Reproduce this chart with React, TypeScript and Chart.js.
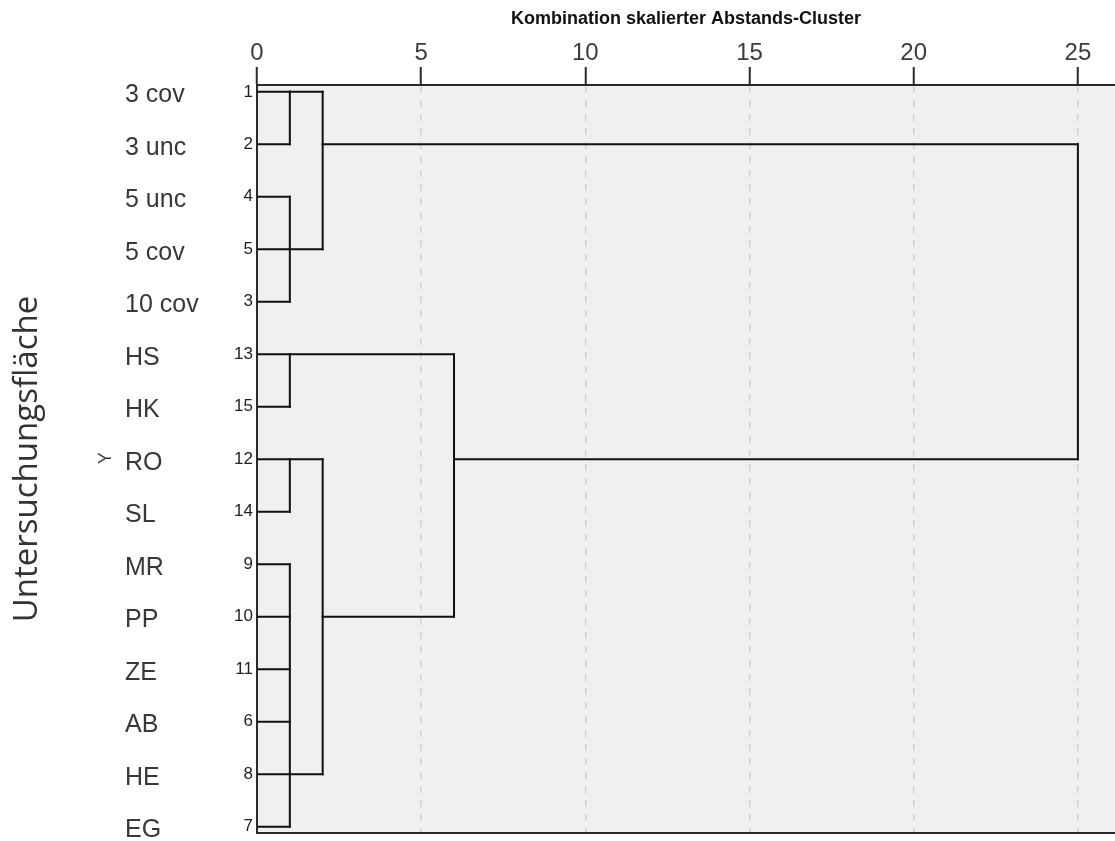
import React, { useEffect, useRef } from "react";
import { Chart, registerables } from "chart.js";

Chart.register(...registerables);

// Leaves (top to bottom)
const leafNames = ["3 cov", "3 unc", "5 unc", "5 cov", "10 cov", "HS", "HK", "RO", "SL", "MR", "PP", "ZE", "AB", "HE", "EG"];
const leafIds = ["1", "2", "4", "5", "3", "13", "15", "12", "14", "9", "10", "11", "6", "8", "7"];

// Merges: children ("L#" = leaf, "M#" = earlier merge), rescaled distance, row where the joined line leaves
const mergeChildren = [
  ["L0", "L1"],
  ["L2", "L3", "L4"],
  ["M0", "M1"],
  ["L5", "L6"],
  ["L7", "L8"],
  ["L9", "L10", "L11", "L12", "L13", "L14"],
  ["M4", "M5"],
  ["M3", "M6"],
  ["M2", "M7"],
];
const mergeHeights = [1, 1, 2, 1, 1, 1, 2, 6, 25];
const mergeRows = [0, 3, 1, 5, 7, 13, 10, 7, 4];

const xTickStep = 5;
const xMax = 26.13;
const titleX = "Kombination skalierter Abstands-Cluster";
const titleY = "Untersuchungsfläche";

function buildSegments() {
  const nodes: Record<string, { row: number; x: number }> = {};
  leafNames.forEach((_, i) => (nodes["L" + i] = { row: i, x: 0 }));
  const segs: { x: number; y: number }[][] = [];
  mergeChildren.forEach((ch, m) => {
    const h = mergeHeights[m];
    const rows = ch.map((c) => nodes[c].row);
    ch.forEach((c) => {
      segs.push([
        { x: nodes[c].x, y: nodes[c].row },
        { x: h, y: nodes[c].row },
      ]);
    });
    segs.push([
      { x: h, y: Math.min(...rows) },
      { x: h, y: Math.max(...rows) },
    ]);
    nodes["M" + m] = { row: mergeRows[m], x: h };
  });
  return segs;
}

const bgPlugin = {
  id: "dendroBg",
  beforeDraw(chart: any) {
    const { ctx, chartArea } = chart;
    ctx.save();
    ctx.fillStyle = "#f0f0f0";
    ctx.fillRect(chartArea.left, chartArea.top, chartArea.right - chartArea.left, chartArea.bottom - chartArea.top);
    ctx.restore();
  },
  afterDraw(chart: any) {
    const { ctx } = chart;
    const ys = chart.scales.y;
    ctx.save();
    ctx.fillStyle = "#383838";
    ctx.font = "25px 'Liberation Sans', Arial, sans-serif";
    ctx.textAlign = "left";
    ctx.textBaseline = "middle";
    leafNames.forEach((n, i) => {
      ctx.fillText(n, 125, ys.getPixelForValue(i) + 3.5);
    });
    ctx.restore();
    // small rotated variable marker
    ctx.save();
    const midY = ys.getPixelForValue(7);
    ctx.translate(106, midY - 1);
    ctx.rotate(-Math.PI / 2);
    ctx.font = "18px 'Liberation Sans Narrow', 'Liberation Sans', Arial, sans-serif";
    ctx.fillStyle = "#3a3a3a";
    ctx.textAlign = "center";
    ctx.textBaseline = "middle";
    ctx.fillText("Y", 0, 0);
    ctx.restore();
  },
};

export default function App() {
  const ref = useRef<HTMLCanvasElement | null>(null);
  useEffect(() => {
    if (!ref.current) return;
    const segs = buildSegments();
    const chart = new Chart(ref.current, {
      type: "scatter",
      data: {
        datasets: segs.map((s) => ({
          data: s,
          showLine: true,
          borderColor: "#111111",
          borderWidth: 2,
          borderCapStyle: "square" as const,
          pointRadius: 0,
          pointHoverRadius: 0,
          xAxisID: "x",
          yAxisID: "y",
        })),
      },
      options: {
        animation: false,
        responsive: false,
        devicePixelRatio: 1,
        layout: { padding: 0 },
        plugins: { legend: { display: false }, tooltip: { enabled: false } },
        events: [],
        scales: {
          x: {
            type: "linear",
            position: "top",
            min: 0,
            max: xMax,
            afterFit(s: any) {
              s.height = 85;
              s.paddingLeft = 0;
              s.paddingRight = 0;
            },
            ticks: {
              stepSize: xTickStep,
              includeBounds: false,
              maxRotation: 0,
              padding: -1,
              color: "#3c3c3c",
              font: { family: "'Liberation Sans', Arial, sans-serif", size: 24 },
            },
            grid: {
              color: "#d2d2d2",
              lineWidth: 1.5,
              tickColor: "#2a2a2a",
              tickWidth: 2,
              tickLength: 18,
              drawOnChartArea: true,
            },
            border: { display: true, color: "#2a2a2a", width: 2, dash: [7, 7] },
            title: {
              display: true,
              text: titleX,
              color: "#111",
              font: { family: "'Liberation Sans', Arial, sans-serif", size: 18, weight: "bold" },
              padding: { top: 8, bottom: 0 },
            },
          },
          x2: {
            type: "linear",
            position: "bottom",
            min: 0,
            max: xMax,
            afterFit(s: any) {
              s.height = 8;
              s.paddingLeft = 0;
              s.paddingRight = 0;
            },
            ticks: { display: false },
            grid: { display: false, drawTicks: false },
            border: { display: true, color: "#2a2a2a", width: 2 },
          },
          y: {
            type: "linear",
            reverse: true,
            min: -0.13,
            max: 14.12,
            afterFit(s: any) {
              s.width = 257;
              s.paddingTop = 0;
              s.paddingBottom = 0;
            },
            ticks: {
              stepSize: 1,
              includeBounds: false,
              autoSkip: false,
              padding: 4,
              color: "#222",
              font: { family: "'Liberation Sans', Arial, sans-serif", size: 17 },
              callback: (v: any) => (leafIds[v] !== undefined ? leafIds[v] : ""),
            },
            grid: { display: false, drawTicks: false },
            border: { display: true, color: "#2a2a2a", width: 2 },
            title: {
              display: true,
              text: titleY,
              color: "#333",
              font: { family: "'Open Sans', sans-serif", size: 33 },
              padding: { top: 8, bottom: 0 },
            },
          },
        },
      },
      plugins: [bgPlugin],
    } as any);
    return () => chart.destroy();
  }, []);
  return (
    <div style={{ position: "fixed", left: 0, top: 0, width: 1115, height: 841 }}>
      <canvas ref={ref} width={1115} height={841} style={{ display: "block" }} />
    </div>
  );
}
